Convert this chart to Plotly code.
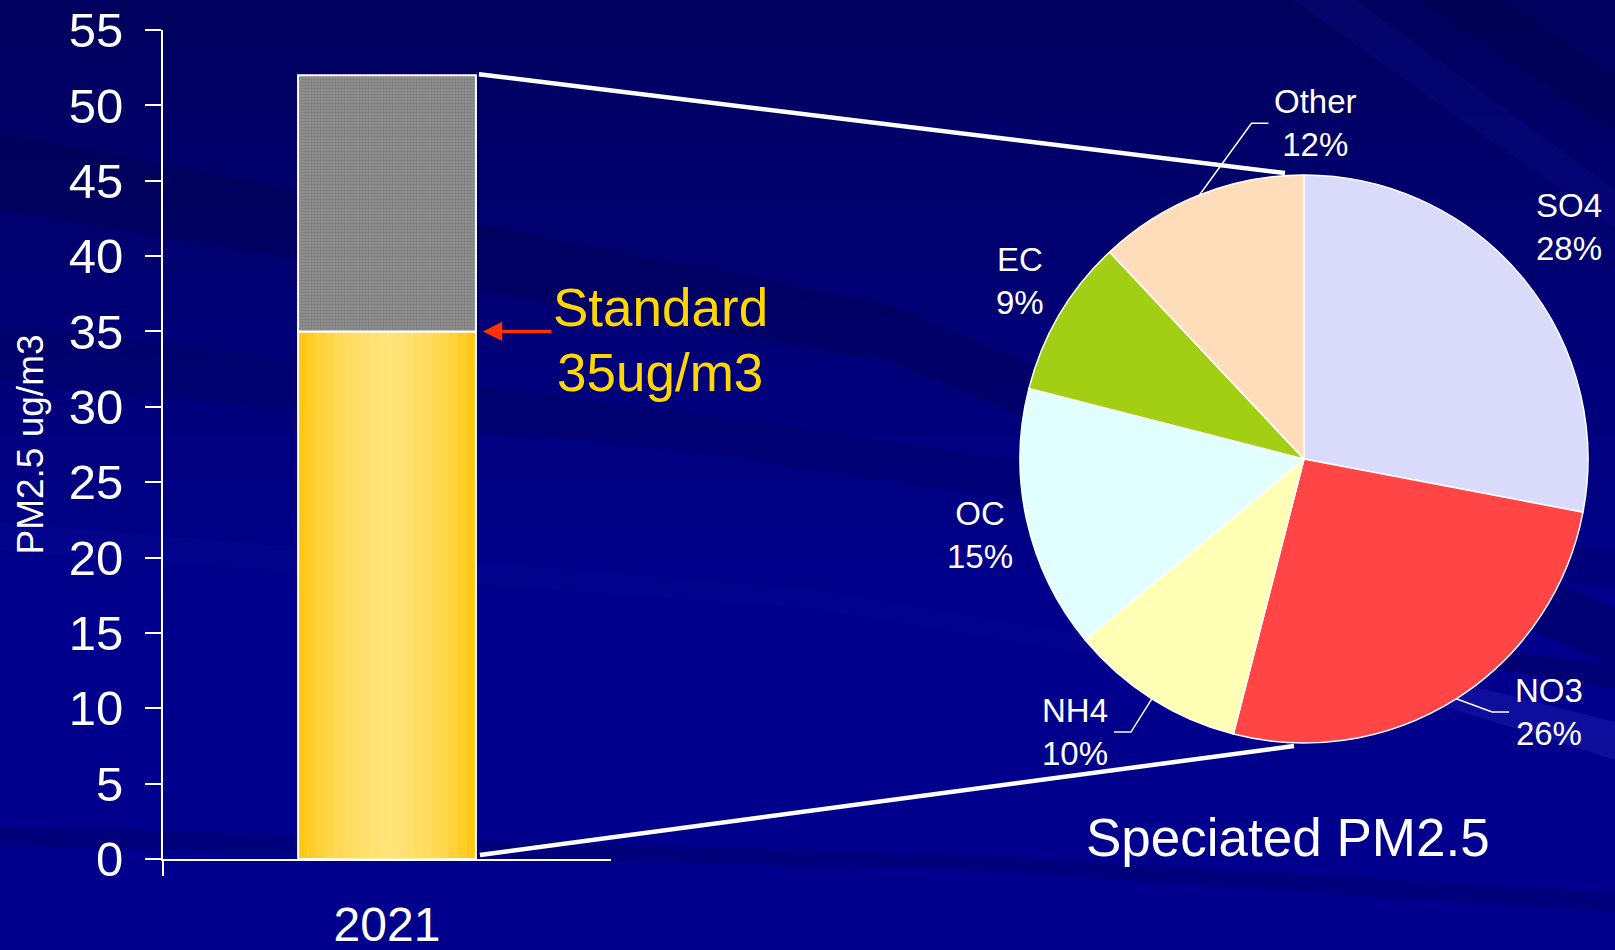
import math
import plotly.graph_objects as go

# ---------------- data ----------------
years = ["2021"]
pm25_up_to_standard = [35]      # ug/m3, portion up to the standard
pm25_above_standard = [17]      # ug/m3, portion above the standard (total 52)
standard_value = 35
y_tick_values = [0, 5, 10, 15, 20, 25, 30, 35, 40, 45, 50, 55]

species = ["SO4", "NO3", "NH4", "OC", "EC", "Other"]
species_pct = [28, 26, 10, 15, 9, 12]

# ---------------- styling / layout constants ----------------
W, H = 1615, 950
FONT = "Liberation Sans, Arial, sans-serif"
PLOT_L, PLOT_R = 163, 611          # px, bar-chart plot area
PLOT_B, PLOT_T = 859, 30
Y_MAX = 55
BAR_WIDTH = 0.397

PIE_CX, PIE_CY, PIE_R = 1304, 459, 284
pie_colors = ["#DADAFB", "#FF4545", "#FFFFB6", "#E2FFFF", "#A2CE14", "#FFDCBA"]
# label placement style: (angle shift deg, radial factor)
label_place = {"SO4": (-1.5, 1.24), "NO3": (-11.7, 1.24), "NH4": (7.6, 1.255),
               "OC": (-0.6, 1.172), "EC": (1.5, 1.18), "Other": (23.6, 1.183)}
leader_side = {"Other": "left", "NO3": "left", "NH4": "right"}
LABEL_FONT = 33
BG = "#00008C"


def px2paper(x, y):
    return x / W, 1 - y / H


def y_data_to_px(v):
    return PLOT_B - (PLOT_B - PLOT_T) * v / Y_MAX


fig = go.Figure()

# --- stacked bar (overlay with explicit base) ---
fig.add_trace(go.Bar(x=years, y=pm25_up_to_standard, width=BAR_WIDTH,
                     marker=dict(color="#FFC814", line=dict(color="white", width=2)),
                     hoverinfo="y", showlegend=False))
n_glow = 10
for i in range(1, n_glow):
    w = BAR_WIDTH * (1 - i / n_glow)
    fig.add_trace(go.Bar(x=years, y=pm25_up_to_standard, width=w,
                         marker=dict(color="rgba(255,236,150,0.16)", line=dict(width=0)),
                         hoverinfo="skip", showlegend=False))
fig.add_trace(go.Bar(x=years, y=pm25_above_standard, base=pm25_up_to_standard,
                     width=BAR_WIDTH,
                     marker=dict(color="#808080", line=dict(color="white", width=2),
                                 pattern=dict(shape=".", size=3, solidity=0.5,
                                              fgcolor="#6a6a6a", bgcolor="#929292")),
                     hoverinfo="y", showlegend=False))

# --- pie ---
dx0, dy1 = px2paper(PIE_CX - PIE_R, PIE_CY - PIE_R)
dx1, dy0 = px2paper(PIE_CX + PIE_R, PIE_CY + PIE_R)
fig.add_trace(go.Pie(labels=species, values=species_pct, sort=False,
                     direction="clockwise", rotation=0,
                     marker=dict(colors=pie_colors, line=dict(color="white", width=1.5)),
                     textinfo="none", hoverinfo="label+percent",
                     domain=dict(x=[dx0, dx1], y=[dy0, dy1]), showlegend=False))

shapes = []
annotations = []

# --- background: vertical darkening + streaks ---
n_bands = 24
for i in range(n_bands):
    y0 = i / n_bands
    op = 0.45 * (y0 - 0.35) / 0.65 if y0 > 0.35 else 0
    if op > 0:
        shapes.append(dict(type="rect", xref="paper", yref="paper", x0=0, x1=1,
                           y0=y0, y1=y0 + 1 / n_bands, fillcolor="#000020",
                           opacity=op, line=dict(width=0), layer="below"))
streaks = [
    ("M 0 0.78 L 0.55 0.62 L 1 0.30 L 1 0.36 L 0.55 0.68 L 0 0.86 Z", "#000040", 0.30),
    ("M 0 0.60 L 0.45 0.52 L 1 0.38 L 1 0.42 L 0.45 0.56 L 0 0.66 Z", "#000050", 0.25),
    ("M 0.80 1 L 1 0.76 L 1 0.80 L 0.84 1 Z", "#1818A8", 0.18),
    ("M 0.88 1 L 1 0.86 L 1 0.92 L 0.93 1 Z", "#000040", 0.30),
    ("M 0.86 0.30 L 1 0.24 L 1 0.20 L 0.86 0.275 Z", "#3030C0", 0.30),
    ("M 0.80 0.34 L 1 0.30 L 1 0.275 L 0.82 0.325 Z", "#000040", 0.30),
    ("M 0 0.13 L 0.6 0.10 L 1 0.06 L 1 0.04 L 0.6 0.085 L 0 0.11 Z", "#000040", 0.22),
    ("M 0 0.42 L 0.5 0.36 L 1 0.22 L 1 0.24 L 0.5 0.38 L 0 0.45 Z", "#1010A0", 0.20),
]
for path, col, op in streaks:
    shapes.append(dict(type="path", xref="paper", yref="paper", path=path,
                       fillcolor=col, opacity=op, line=dict(width=0), layer="below"))

# --- connector lines from bar to pie ---
bar_right_px = PLOT_L + (PLOT_R - PLOT_L) * (0.5 + BAR_WIDTH / 2)
total = pm25_up_to_standard[0] + pm25_above_standard[0]
xa, ya = px2paper(bar_right_px + 3, y_data_to_px(total) - 1)
xb, yb = px2paper(PIE_CX - 19, PIE_CY - PIE_R - 2)
shapes.append(dict(type="line", xref="paper", yref="paper", x0=xa, y0=ya, x1=xb, y1=yb,
                   line=dict(color="white", width=4.5)))
xa, ya = px2paper(bar_right_px + 4, y_data_to_px(0) - 4)
xb, yb = px2paper(PIE_CX - 10, PIE_CY + PIE_R + 3)
shapes.append(dict(type="line", xref="paper", yref="paper", x0=xa, y0=ya, x1=xb, y1=yb,
                   line=dict(color="white", width=4.5)))

# --- pie labels + leader lines ---
CHAR_W = {"O": .778, "t": .278, "h": .556, "e": .556, "r": .333, "S": .667, "N": .722,
          "H": .722, "C": .722, "E": .667, "%": .889}


def text_w(s):
    return sum(CHAR_W.get(ch, 0.556) for ch in s) * LABEL_FONT


tot = sum(species_pct)
cum = 0
for name, pct in zip(species, species_pct):
    mid = (cum + pct / 2) / tot * 360
    cum += pct
    shift, fac = label_place[name]
    a = math.radians(mid + shift)
    lx = PIE_CX + fac * PIE_R * math.sin(a)
    ly = PIE_CY - fac * PIE_R * math.cos(a)
    px_, py_ = px2paper(lx, ly)
    txt = f"{name}<br>{pct}%"
    annotations.append(dict(x=px_, y=py_, xref="paper", yref="paper", text=txt,
                            showarrow=False, xanchor="center", yanchor="middle",
                            font=dict(family=FONT, size=LABEL_FONT, color="white")))
    if name in leader_side:
        half = max(text_w(name), text_w(f"{pct}%")) / 2
        am = math.radians(mid)
        sx = PIE_CX + PIE_R * math.sin(am)
        sy = PIE_CY - PIE_R * math.cos(am)
        if leader_side[name] == "left":
            ex = lx - half - 6
            kx = ex - 17
        else:
            ex = lx + half + 6
            kx = ex + 17
        ey = ly
        p1 = px2paper(sx, sy)
        p2 = px2paper(kx, ey)
        p3 = px2paper(ex, ey)
        shapes.append(dict(type="path", xref="paper", yref="paper",
                           path=f"M {p1[0]} {p1[1]} L {p2[0]} {p2[1]} L {p3[0]} {p3[1]}",
                           line=dict(color="white", width=1.5)))

# --- standard annotation ---
annotations.append(dict(x=(bar_right_px + 7) / W, y=standard_value, xref="paper", yref="y",
                        ax=70, ay=0, axref="pixel", ayref="pixel", text="",
                        showarrow=True, arrowhead=2, arrowsize=1.1, arrowwidth=3.5,
                        arrowcolor="#FF3300"))
annotations.append(dict(x=660 / W, y=1 - 307 / H, xref="paper", yref="paper",
                        text="Standard", showarrow=False, xanchor="center", yanchor="middle",
                        font=dict(family=FONT, size=53, color="#FFD700")))
annotations.append(dict(x=660 / W, y=1 - 372 / H, xref="paper", yref="paper",
                        text=f"{standard_value}ug/m3", showarrow=False, xanchor="center",
                        yanchor="middle", font=dict(family=FONT, size=53, color="#FFD700")))

# --- pie title ---
annotations.append(dict(x=1288 / W, y=1 - 837 / H, xref="paper", yref="paper",
                        text="Speciated PM2.5", showarrow=False, xanchor="center",
                        yanchor="middle", font=dict(family=FONT, size=53, color="white")))

fig.update_layout(
    width=W, height=H, autosize=False,
    margin=dict(l=0, r=0, t=0, b=0),
    paper_bgcolor=BG, plot_bgcolor="rgba(0,0,0,0)",
    barmode="overlay",
    font=dict(family=FONT, color="white"),
    shapes=shapes, annotations=annotations,
    xaxis=dict(domain=[PLOT_L / W, PLOT_R / W], type="category", range=[-0.5, 0.5],
               tickson="boundaries", ticks="outside", ticklen=15, tickwidth=2,
               tickcolor="white", showline=True, linecolor="white", linewidth=2,
               showgrid=False, zeroline=False, automargin=False, ticklabelstandoff=22,
               tickfont=dict(family=FONT, size=48, color="white")),
    yaxis=dict(domain=[1 - PLOT_B / H, 1 - PLOT_T / H], range=[0, Y_MAX],
               tickvals=y_tick_values, ticks="outside", ticklen=16, tickwidth=2,
               tickcolor="white", showline=True, linecolor="white", linewidth=2,
               showgrid=False, zeroline=False, automargin=False, ticklabelstandoff=12,
               tickfont=dict(family=FONT, size=49, color="white"),
               title=dict(text="PM2.5 ug/m3", standoff=14,
                          font=dict(family=FONT, size=37, color="white"))),
)

fig.write_html("out.html", config={"displayModeBar": False},
               post_script=f"document.body.style.margin='0';"
                           f"document.body.style.background='{BG}';")
